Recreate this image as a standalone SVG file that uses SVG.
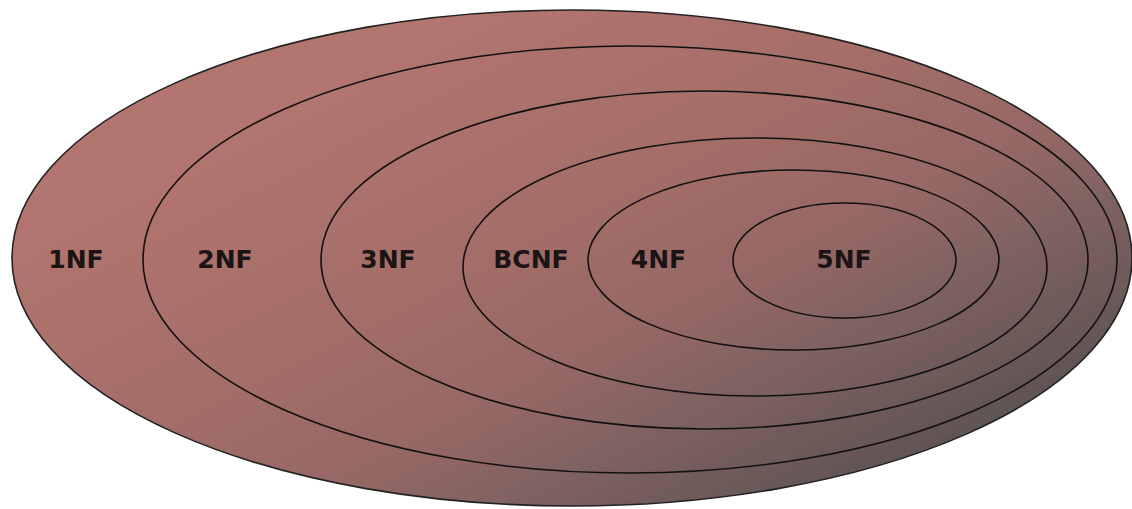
<svg xmlns="http://www.w3.org/2000/svg" width="1132" height="509" viewBox="0 0 1132 509">
  <defs>
    <linearGradient id="fill" gradientUnits="userSpaceOnUse" x1="350" y1="60" x2="639" y2="631">
      <stop offset="0" stop-color="#b3756f"/>
      <stop offset="0.33" stop-color="#a66e69"/>
      <stop offset="0.58" stop-color="#966865"/>
      <stop offset="0.73" stop-color="#7f6260"/>
      <stop offset="0.97" stop-color="#5e5353"/>
      <stop offset="1" stop-color="#5b5151"/>
    </linearGradient>
  </defs>
  <style>
    .ring { fill: none; stroke: #111; stroke-width: 1.6; }
    .outer { fill: url(#fill); stroke: #222; stroke-width: 1.6; }
    .label { font-family: "DejaVu Sans", "Liberation Sans", sans-serif; font-weight: bold; font-size: 25px; fill: #1a1414; text-anchor: middle; }
  </style>
  <rect width="1132" height="509" fill="#ffffff"/>

  <!-- normal forms, nested from the widest to the strictest -->
  <g id="nf1">
    <ellipse class="outer" cx="572" cy="258" rx="560" ry="248"/>
    <text class="label" x="76" y="268">1NF</text>
  </g>
  <g id="nf2">
    <ellipse class="ring" cx="630" cy="259.5" rx="487" ry="213.5"/>
    <text class="label" x="225" y="268">2NF</text>
  </g>
  <g id="nf3">
    <ellipse class="ring" cx="704.5" cy="260" rx="383.5" ry="169"/>
    <text class="label" x="388" y="268">3NF</text>
  </g>
  <g id="bcnf">
    <ellipse class="ring" cx="755" cy="267" rx="292" ry="129"/>
    <text class="label" x="531" y="268">BCNF</text>
  </g>
  <g id="nf4">
    <ellipse class="ring" cx="793.5" cy="260" rx="205.5" ry="90"/>
    <text class="label" x="658.5" y="268">4NF</text>
  </g>
  <g id="nf5">
    <ellipse class="ring" cx="844.5" cy="260.5" rx="111.5" ry="57.5"/>
    <text class="label" x="844" y="268">5NF</text>
  </g>
</svg>
